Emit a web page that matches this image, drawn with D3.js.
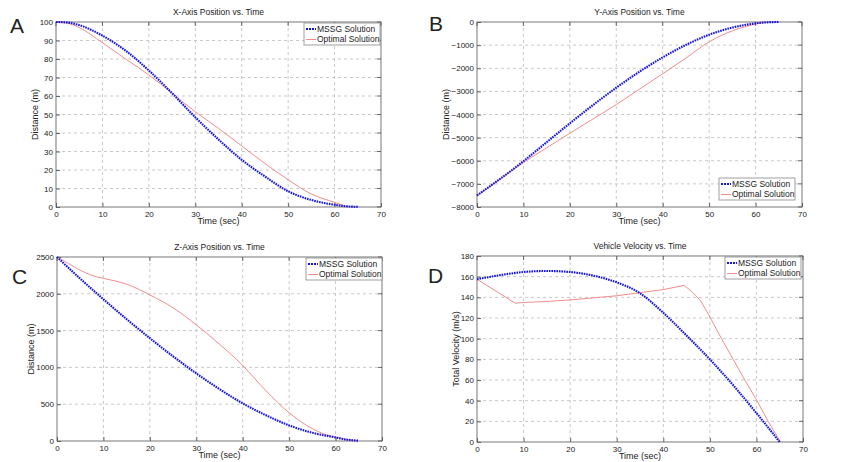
<!DOCTYPE html>
<html>
<head>
<meta charset="utf-8">
<script src="https://cdnjs.cloudflare.com/ajax/libs/d3/7.8.5/d3.min.js"></script>
<style>
  body { margin: 0; background: #fff; }
  svg text { font-family: "Liberation Sans", Arial, sans-serif; fill: #222; }
  .grid line { stroke: #c8c8c8; stroke-dasharray: 3,3; }
</style>
</head>
<body>
<div id="chart"></div>
<script>
// data
var xTicks = [0, 10, 20, 30, 40, 50, 60, 70];

// A: x-axis position
var aMssgTime = [0, 2.5, 5, 10, 15, 20, 25, 30, 35, 40, 45, 50, 55, 60, 62.5, 65];
var aMssgVal = [100, 99.7, 98.3, 92.6, 84.5, 73.8, 61.5, 48.5, 36.5, 25.5, 16.5, 8.5, 3.8, 1.2, 0.4, 0.1];
var aOptTime = [0, 2.5, 5, 10, 15, 20, 25, 30, 35, 40, 45, 50, 55, 60, 62];
var aOptVal = [100, 99.3, 97, 88.8, 80, 71.4, 61.5, 51.5, 42.5, 33, 23.5, 14.7, 7, 2.5, 0.8];
var aTicks = [0, 10, 20, 30, 40, 50, 60, 70, 80, 90, 100];

// B: y-axis position
var bMssgTime = [0, 5, 10, 15, 20, 25, 30, 35, 40, 45, 50, 55, 60, 62.5, 65];
var bMssgVal = [-7500, -6780, -6020, -5200, -4380, -3590, -2840, -2150, -1530, -990, -550, -240, -60, -15, 0];
var bOptTime = [0, 5, 10, 15, 20, 25, 30, 35, 40, 45, 50, 55, 60, 62];
var bOptVal = [-7500, -6800, -6080, -5440, -4810, -4190, -3570, -2900, -2240, -1560, -860, -380, -90, 0];
var bTicks = [-8000, -7000, -6000, -5000, -4000, -3000, -2000, -1000, 0];

// C: z-axis position
var cMssgTime = [0, 5, 10, 15, 20, 25, 30, 35, 40, 45, 50, 55, 60, 62.5, 65];
var cMssgVal = [2500, 2205, 1926, 1655, 1397, 1150, 918, 705, 511, 350, 212, 112, 48, 18, 5];
var cOptTime = [0, 2.5, 5, 7.5, 10, 12.5, 15, 17.5, 20, 25, 30, 35, 40, 45, 50, 55, 58, 60, 62, 64];
var cOptVal = [2500, 2410, 2320, 2250, 2210, 2175, 2130, 2065, 1985, 1810, 1578, 1315, 1026, 683, 384, 167, 86, 55, 25, 5];
var cTicks = [0, 500, 1000, 1500, 2000, 2500];

// D: vehicle velocity
var dMssgTime = [0, 5, 10, 15, 20, 25, 30, 35, 40, 45, 50, 55, 60, 65];
var dMssgVal = [157.5, 161.5, 164.5, 165.5, 164.5, 161, 154.5, 144, 125, 103, 80, 55, 28, 0];
var dOptTime = [0, 8.2, 10, 15, 20, 25, 30, 35, 40, 44.5, 46, 48, 50, 52.5, 55, 57.5, 60, 62.5, 65.2];
var dOptVal = [157.5, 134.3, 135, 136, 137.5, 139.5, 141.5, 144.5, 147.5, 151.5, 146, 137, 121, 100, 80, 60, 41, 20, 0];
var dTicks = [0, 20, 40, 60, 80, 100, 120, 140, 160, 180];

var legendNames = ["MSSG Solution", "Optimal Solution"];

var panels = [
    { letter: "A", lx: 10, ly: 33, left: 56, right: 381, top: 22, bottom: 207,
      title: "X-Axis Position vs. Time", ylabel: "Distance (m)", ylx: 35,
      ydom: [0, 100], yticks: aTicks, legend: [304, 23],
      mssg: [aMssgTime, aMssgVal], opt: [aOptTime, aOptVal], optCurve: d3.curveMonotoneX },
    { letter: "B", lx: 429, ly: 31, left: 477, right: 802, top: 22, bottom: 207,
      title: "Y-Axis Position vs. Time", ylabel: "Distance (m)", ylx: 446,
      ydom: [-8000, 0], yticks: bTicks, legend: [719, 178],
      mssg: [bMssgTime, bMssgVal], opt: [bOptTime, bOptVal], optCurve: d3.curveMonotoneX },
    { letter: "C", lx: 12, ly: 284, left: 57, right: 382, top: 257, bottom: 441,
      title: "Z-Axis Position vs. Time", ylabel: "Distance (m)", ylx: 31,
      ydom: [0, 2500], yticks: cTicks, legend: [306, 258],
      mssg: [cMssgTime, cMssgVal], opt: [cOptTime, cOptVal], optCurve: d3.curveMonotoneX },
    { letter: "D", lx: 428, ly: 283, left: 477, right: 803, top: 256, bottom: 442,
      title: "Vehicle Velocity vs. Time", ylabel: "Total Velocity (m/s)", ylx: 456,
      ydom: [0, 180], yticks: dTicks, legend: [725, 257],
      mssg: [dMssgTime, dMssgVal], opt: [dOptTime, dOptVal], optCurve: d3.curveLinear }
];

var blue = "#1414dc";
var red = "#f28c8c";

var svg = d3.select("#chart")
    .append("svg")
    .attr("width", 842)
    .attr("height", 462);

panels.forEach(function(p) {
    var w = p.right - p.left;
    var h = p.bottom - p.top;

    var xScale = d3.scaleLinear().domain([0, 70]).range([0, w]);
    var yScale = d3.scaleLinear().domain(p.ydom).range([h, 0]);

    var g = svg.append("g")
        .attr("transform", `translate(${p.left}, ${p.top})`);

    // grid
    g.append("g")
        .attr("class", "grid")
        .selectAll("line.v")
        .data(xTicks.slice(1, -1))
        .enter()
        .append("line")
        .attr("x1", d => xScale(d)).attr("x2", d => xScale(d))
        .attr("y1", 0).attr("y2", h);

    g.append("g")
        .attr("class", "grid")
        .selectAll("line.h")
        .data(p.yticks.slice(1, -1))
        .enter()
        .append("line")
        .attr("x1", 0).attr("x2", w)
        .attr("y1", d => yScale(d)).attr("y2", d => yScale(d));

    // axes with inward ticks
    var bottomAxis = d3.axisBottom(xScale).tickValues(xTicks).tickFormat(d3.format("d"))
        .tickSizeInner(-4).tickSizeOuter(0).tickPadding(4);
    var leftAxis = d3.axisLeft(yScale).tickValues(p.yticks).tickFormat(d3.format("d"))
        .tickSizeInner(-4).tickSizeOuter(0).tickPadding(3);

    var xa = g.append("g")
        .attr("transform", `translate(0, ${h})`)
        .call(bottomAxis);
    var ya = g.append("g").call(leftAxis);
    [xa, ya].forEach(function(a) {
        a.select(".domain").remove();
        a.selectAll("line").attr("stroke", "#666");
        a.selectAll("text").attr("font-family", null).style("font-size", "8px").attr("fill", "#222");
    });

    // top/right ticks
    g.selectAll("line.tt")
        .data(xTicks)
        .enter()
        .append("line")
        .attr("x1", d => xScale(d)).attr("x2", d => xScale(d))
        .attr("y1", 0).attr("y2", 4)
        .attr("stroke", "#666");
    g.selectAll("line.rt")
        .data(p.yticks)
        .enter()
        .append("line")
        .attr("x1", w - 4).attr("x2", w)
        .attr("y1", d => yScale(d)).attr("y2", d => yScale(d))
        .attr("stroke", "#666");

    // box
    g.append("rect")
        .attr("width", w)
        .attr("height", h)
        .attr("fill", "none")
        .attr("stroke", "#555")
        .attr("stroke-width", 0.8);

    // lines
    var optLine = d3.line()
        .x((d, i) => xScale(p.opt[0][i]))
        .y(d => yScale(d))
        .curve(p.optCurve);
    var mssgLine = d3.line()
        .x((d, i) => xScale(p.mssg[0][i]))
        .y(d => yScale(d))
        .curve(d3.curveMonotoneX);

    g.append("path")
        .attr("d", optLine(p.opt[1]))
        .attr("fill", "none")
        .attr("stroke", red)
        .attr("stroke-width", 1);

    g.append("path")
        .attr("d", mssgLine(p.mssg[1]))
        .attr("fill", "none")
        .attr("stroke", blue)
        .attr("stroke-width", 2.1)
        .attr("stroke-dasharray", "1.6,0.9");

    // title and labels
    g.append("text")
        .attr("x", w / 2)
        .attr("y", -7)
        .attr("text-anchor", "middle")
        .style("font-size", "8.5px")
        .text(p.title);

    g.append("text")
        .attr("x", w / 2)
        .attr("y", h + 17)
        .attr("text-anchor", "middle")
        .style("font-size", "9px")
        .text("Time (sec)");

    svg.append("text")
        .attr("transform", `translate(${p.ylx}, ${(p.top + p.bottom) / 2}) rotate(-90)`)
        .attr("text-anchor", "middle")
        .attr("dy", "0.35em")
        .style("font-size", "9px")
        .text(p.ylabel);

    svg.append("text")
        .attr("x", p.lx)
        .attr("y", p.ly)
        .style("font-size", "21px")
        .text(p.letter);

    // legend
    var lg = svg.append("g")
        .attr("transform", `translate(${p.legend[0]}, ${p.legend[1]})`);
    lg.append("rect")
        .attr("width", 76)
        .attr("height", 22)
        .attr("fill", "#fff")
        .attr("stroke", "#888")
        .attr("stroke-width", 0.8);
    legendNames.forEach(function(name, i) {
        var yy = 6 + i * 10.5;
        lg.append("line")
            .attr("x1", 2).attr("x2", 12)
            .attr("y1", yy).attr("y2", yy)
            .attr("stroke", i == 0 ? blue : red)
            .attr("stroke-width", i == 0 ? 2 : 1)
            .attr("stroke-dasharray", i == 0 ? "2,1" : null);
        lg.append("text")
            .attr("x", 13)
            .attr("y", yy)
            .attr("dy", "0.35em")
            .style("font-size", "8.5px")
            .text(name);
    });
});
</script>
</body>
</html>
